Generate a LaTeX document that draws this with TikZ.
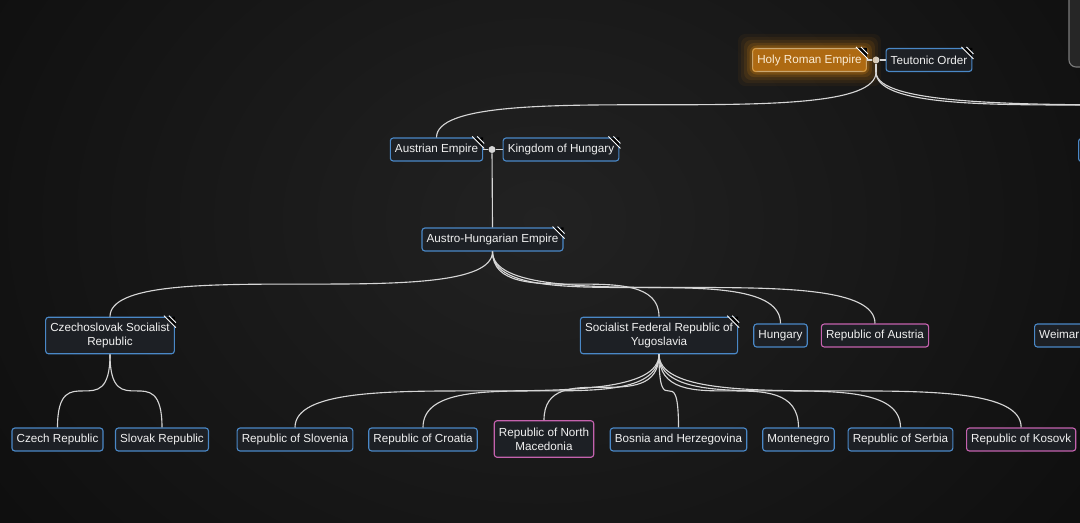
\documentclass[tikz,border=0pt]{standalone}
\usepackage{fontspec}
\setmainfont{Liberation Sans}
\usetikzlibrary{calc,positioning}

\definecolor{bgmid}{HTML}{222222}
\definecolor{bgdark}{HTML}{0B0B0B}
\definecolor{boxfill}{HTML}{1D2025}
\definecolor{boxblue}{HTML}{4A88C7}
\definecolor{boxpink}{HTML}{C462AE}
\definecolor{boxtext}{HTML}{F0F0F0}
\definecolor{linegray}{HTML}{D6D6D6}
\definecolor{hrefill}{HTML}{AE6A12}
\definecolor{hredraw}{HTML}{C9A772}
\definecolor{hretext}{HTML}{FBEBD2}
\definecolor{glow}{HTML}{E08A10}
\definecolor{panelfill}{HTML}{262626}
\definecolor{panelgray}{HTML}{7A7A7A}

% curved mind-map branch: leaves and enters vertically, flat in the middle
\newcommand\branch[2]{%
  \draw[branch] (#1) .. controls (#1 |- #2) and (#2 |- #1) .. (#2);}

% note marker in the top right corner
\newcommand\fold[1]{%
  \fill[black] (#1.north east) ++(-10,0) -- ++(10,0) -- ++(0,10) -- cycle;
  \draw[white, line width=0.6pt] ($(#1.north east)+(-11,-1)$) -- ($(#1.north east)+(1,11)$);
  \draw[white, line width=0.6pt] ($(#1.north east)+(-6,-1)$) -- ($(#1.north east)+(1,6)$);}

\begin{document}
\begin{tikzpicture}[x=0.025cm, y=-0.025cm,
    box/.style={draw=boxblue, fill=boxfill, rounded corners=2pt, line width=0.8pt,
      text=boxtext, font=\fontsize{8.3}{9.8}\selectfont, inner xsep=3.3pt,
      inner ysep=0pt, minimum height=16.3pt, align=center},
    pinkbox/.style={box, draw=boxpink},
    twoline/.style={minimum height=26pt},
    hrebox/.style={box, fill=hrefill, draw=hredraw, text=hretext},
    branch/.style={draw=linegray, line width=0.8pt},
    knot/.style={circle, fill=linegray, inner sep=0pt, minimum size=5pt}]

  \useasboundingbox (0,0) rectangle (1080,522);
  \clip (0,0) rectangle (1080,522);
  \shade[inner color=bgmid, outer color=bgdark] (-250,-400) rectangle (1330,840);

  % side panel
  \draw[draw=panelgray, fill=panelfill, line width=0.8pt, rounded corners=5pt] (1069,-20) rectangle (1130,67);

  % top level
  \node[hrebox] (hre) at (809.5,60) {Holy Roman Empire};
  \node[box] (teu) at (929,60) {Teutonic Order};
  \node[knot] (k1) at (876,60) {};
  \foreach \g/\o in {14/0.05, 11/0.07, 8/0.10, 5/0.15, 2.5/0.22} {
    \fill[glow, opacity=\o, even odd rule, rounded corners=5pt]
      ($(hre.north west)+(-\g,-\g)$) rectangle ($(hre.south east)+(\g,\g)$)
      (hre.north west) rectangle (hre.south east);
  }

  % second level
  \node[box] (aus) at (436.5,149.5) {Austrian Empire};
  \node[box] (hun) at (561,149.5) {Kingdom of Hungary};
  \node[knot] (k2) at (492,149.5) {};
  \node[box, anchor=north west, minimum width=90pt, minimum height=16.3pt] (nxt) at (1078,138) {};

  \node[box] (ahe) at (492.5,239.5) {Austro-Hungarian Empire};

  % third level
  \node[box, twoline] (csr) at (110,335.5) {Czechoslovak Socialist\\Republic};
  \node[box, twoline] (sfr) at (659,335.5) {Socialist Federal Republic of\\Yugoslavia};
  \node[box] (hgy) at (780.5,335.5) {Hungary};
  \node[pinkbox] (rau) at (875,335.5) {Republic of Austria};
  \node[box, anchor=west] (wei) at (1034,335.5) {Weimar Republic};

  % fourth level
  \node[box] (cze) at (57.5,439.5) {Czech Republic};
  \node[box] (svk) at (162,439.5) {Slovak Republic};
  \node[box] (slo) at (295,439.5) {Republic of Slovenia};
  \node[box] (cro) at (423,439.5) {Republic of Croatia};
  \node[pinkbox, twoline] (mac) at (544,439) {Republic of North\\Macedonia};
  \node[box] (bih) at (678.5,439.5) {Bosnia and Herzegovina};
  \node[box] (mne) at (798.5,439.5) {Montenegro};
  \node[box] (srb) at (900.5,439.5) {Republic of Serbia};
  \node[pinkbox, anchor=west] (kos) at (966,439.5) {Republic of Kosovk};

  % connectors
  \coordinate (k1b) at (k1 |- hre.south);
  \coordinate (offa) at (1300,138);
  \coordinate (offb) at (1460,138);
  \draw[branch] (hre.east) -- (k1) -- (teu.west);
  \draw[branch] (k1) -- (k1b);
  \branch{k1b}{aus.north}
  \branch{k1b}{offa}
  \branch{k1b}{offb}

  \draw[branch] (aus.east) -- (k2) -- (hun.west);
  \draw[branch] (k2) -- (ahe.north);

  \foreach \c in {csr, sfr, hgy, rau} {
    \branch{ahe.south}{\c.north}
  }
  \foreach \c in {cze, svk} {
    \branch{csr.south}{\c.north}
  }
  \foreach \c in {slo, cro, mac, bih, mne, srb, kos} {
    \branch{sfr.south}{\c.north}
  }

  \foreach \n in {hre, teu, aus, hun, ahe, csr, sfr} {
    \fold{\n}
  }
\end{tikzpicture}
\end{document}
